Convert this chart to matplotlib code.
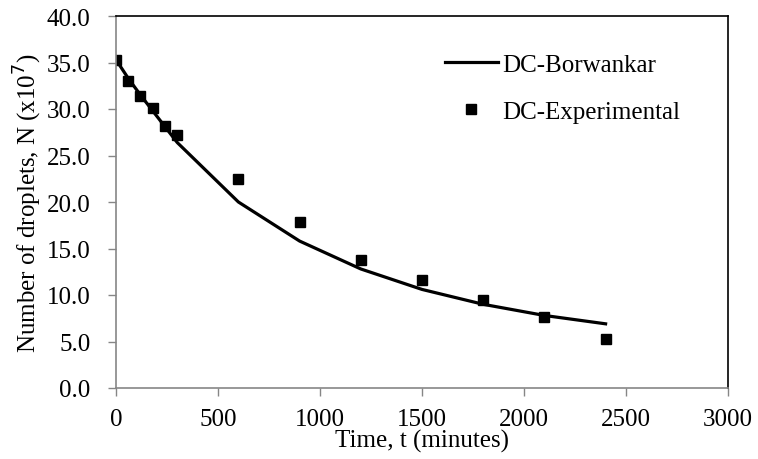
import numpy as np
import matplotlib.pyplot as plt

plt.rcParams['font.family'] = ['Liberation Serif', 'DejaVu Serif']

# время, мин
t_model = [0, 60, 120, 180, 240, 300, 600, 900, 1200, 1500, 1800, 2100, 2400]
n_model = [35.3, 33.3, 31.5, 29.8, 28.1, 26.4, 20.0, 15.8, 12.8, 10.6, 9.0, 7.8, 6.9]

t_exp = [0, 60, 120, 180, 240, 300, 600, 900, 1200, 1500, 1800, 2100, 2400]
n_exp = [35.3, 33.0, 31.4, 30.1, 28.2, 27.2, 22.5, 17.8, 13.8, 11.6, 9.5, 7.6, 5.3]

fig = plt.figure(figsize=(7.58, 4.60), dpi=100)
ax = fig.add_axes([116 / 758, 71 / 460, 612 / 758, 372 / 460])

ax.plot(t_model, n_model, 'k-', lw=2.3, label='DC-Borwankar')
ax.plot(t_exp, n_exp, 'ks', ms=7.5, ls='none', label='DC-Experimental')

ax.set_xlim(0, 3000)
ax.set_ylim(0, 40)
ax.set_xticks(np.arange(0, 3001, 500))
ax.set_yticks(np.arange(0, 40.1, 5))
ax.set_yticklabels(['%.1f' % v for v in np.arange(0, 40.1, 5)])
ax.tick_params(direction='out', length=5.5, width=1, color='#868686',
               labelsize=18)
ax.tick_params(axis='x', pad=9)
ax.tick_params(axis='y', pad=13)

for s in ['left', 'bottom']:
    ax.spines[s].set_color('#868686')
    ax.spines[s].set_linewidth(1.2)
for s in ['top', 'right']:
    ax.spines[s].set_color('black')
    ax.spines[s].set_linewidth(1.2)

ax.set_xlabel('Time, t (minutes)', fontsize=18, labelpad=-1)
ax.set_ylabel('Number of droplets, N (x10$^7$)', fontsize=18, labelpad=2)

ax.legend(loc='upper left', bbox_to_anchor=(0.5376, 0.90), frameon=False,
          fontsize=18, handlelength=2.1, handletextpad=0.2,
          labelspacing=1.0, borderpad=0, borderaxespad=0)

fig.savefig('out.png', dpi=100)
